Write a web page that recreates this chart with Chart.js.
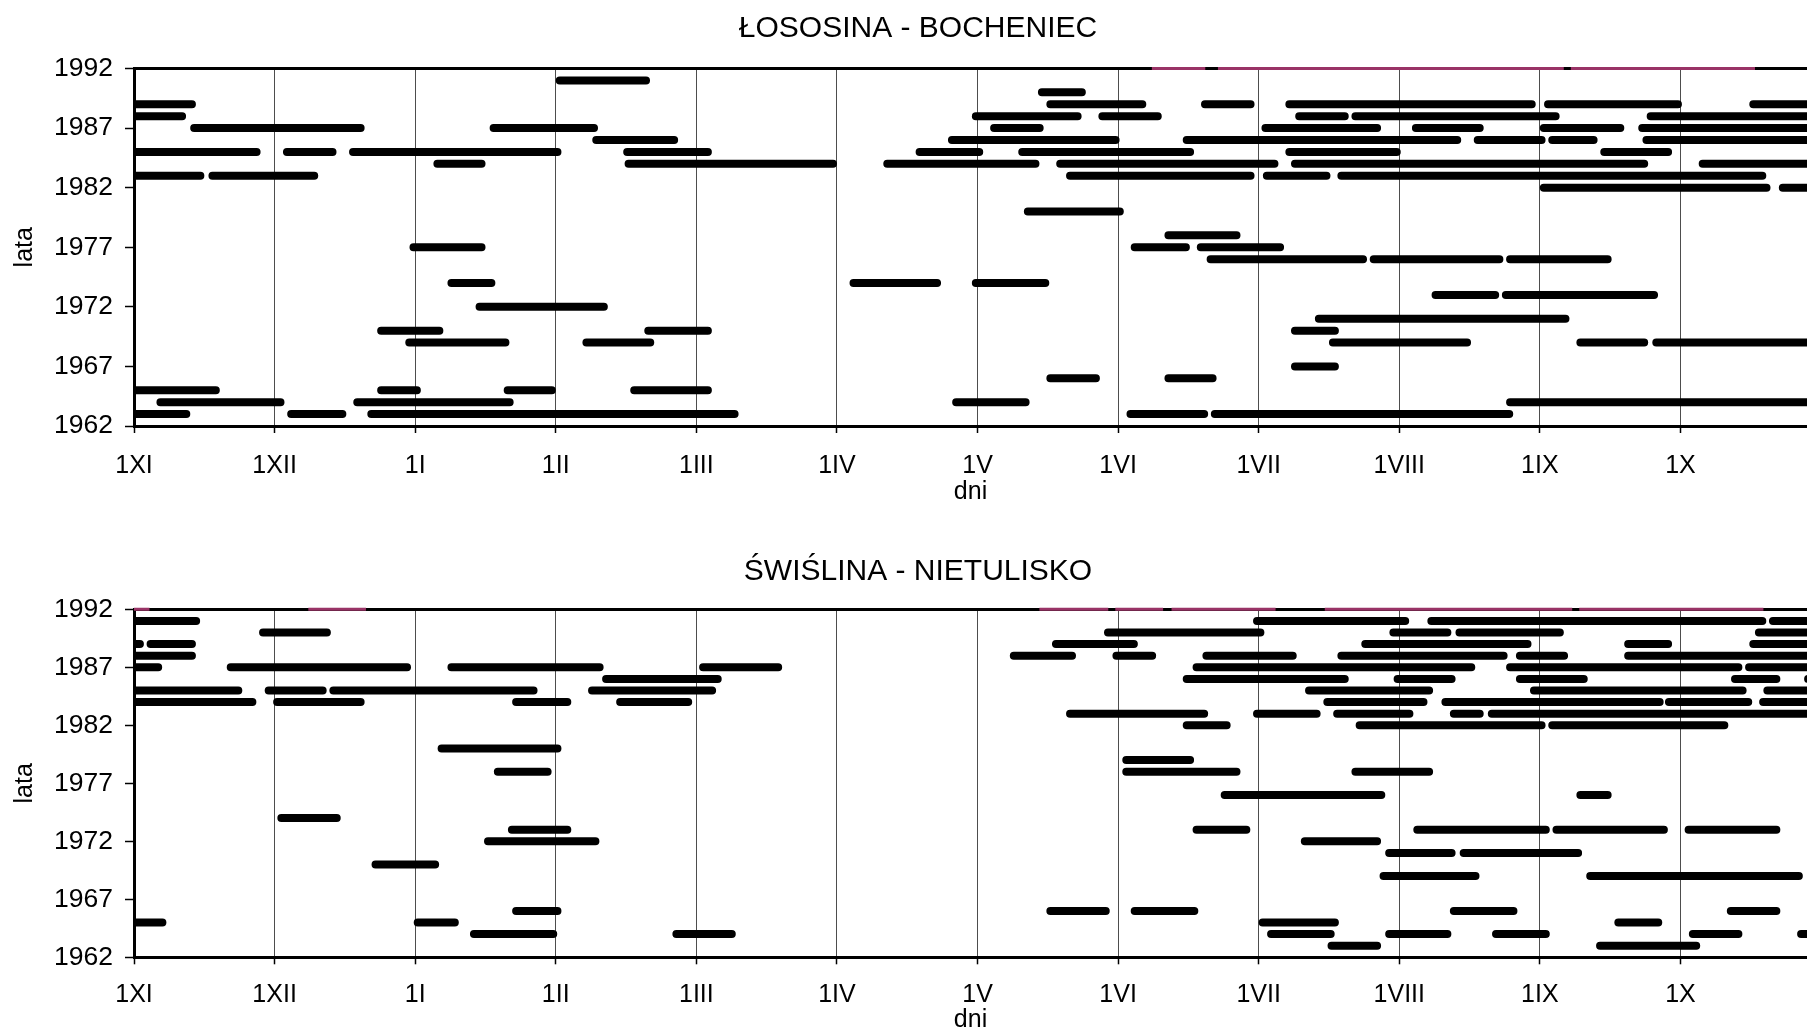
<!DOCTYPE html>
<html>
<head>
<meta charset="utf-8">
<script src="https://cdn.jsdelivr.net/npm/chart.js@4.4.0/dist/chart.umd.min.js"></script>
<style>
  html, body { margin: 0; padding: 0; background: #fff; overflow: hidden; }
  .panel { position: absolute; left: 0; width: 1807px; }
  #p1 { top: 0; height: 516px; }
  #p2 { top: 516px; height: 530px; }
</style>
</head>
<body>
<div class="panel" id="p1"><canvas id="chart1"></canvas></div>
<div class="panel" id="p2"><canvas id="chart2"></canvas></div>
<script>
// AXES
const monthLabels = ['1XI', '1XII', '1I', '1II', '1III', '1IV', '1V', '1VI', '1VII', '1VIII', '1IX', '1X'];
const yearTicks = [1962, 1967, 1972, 1977, 1982, 1987, 1992];

// [year, start, end]  (start/end in months from 1 XI)
const losSegments = [
  [1991,3.00,3.67],
  [1990,6.43,6.77],
  [1989,0,0.44],[1989,6.49,7.20],[1989,7.59,7.97],[1989,8.19,9.97],[1989,10.03,11.01],[1989,11.49,12],
  [1988,0,0.37],[1988,5.96,6.74],[1988,6.86,7.31],[1988,8.26,8.64],[1988,8.66,10.14],[1988,10.76,12],
  [1987,0.40,1.64],[1987,2.53,3.30],[1987,6.09,6.47],[1987,8.02,8.87],[1987,9.09,9.60],[1987,10.00,10.60],[1987,10.70,12],
  [1986,3.26,3.87],[1986,5.79,7.01],[1986,7.46,9.44],[1986,9.53,10.04],[1986,10.06,10.41],[1986,10.73,12],
  [1985,0,0.90],[1985,1.06,1.44],[1985,1.53,3.04],[1985,3.48,4.11],[1985,5.56,6.04],[1985,6.29,7.54],[1985,8.19,9.01],[1985,10.43,10.94],
  [1984,2.13,2.50],[1984,3.49,5.00],[1984,5.33,6.44],[1984,6.56,8.14],[1984,8.23,10.77],[1984,11.13,12],
  [1983,0,0.50],[1983,0.53,1.31],[1983,6.63,7.97],[1983,8.03,8.51],[1983,8.56,11.61],
  [1982,10.00,11.64],[1982,11.70,12],
  [1980,6.33,7.04],
  [1978,7.33,7.87],
  [1977,1.96,2.50],[1977,7.09,7.51],[1977,7.56,8.18],
  [1976,7.63,8.77],[1976,8.79,9.74],[1976,9.76,10.51],
  [1974,2.23,2.57],[1974,5.09,5.74],[1974,5.96,6.51],
  [1973,9.23,9.71],[1973,9.73,10.84],
  [1972,2.43,3.37],
  [1971,8.40,10.21],
  [1970,1.73,2.20],[1970,3.63,4.11],[1970,8.23,8.57],
  [1969,1.93,2.67],[1969,3.19,3.70],[1969,8.50,9.51],[1969,10.26,10.77],[1969,10.80,12],
  [1967,8.23,8.57],
  [1966,6.49,6.87],[1966,7.33,7.70],
  [1965,0,0.61],[1965,1.73,2.04],[1965,2.63,3.00],[1965,3.53,4.11],
  [1964,0.16,1.07],[1964,1.56,2.70],[1964,5.82,6.37],[1964,9.76,12],
  [1963,0,0.40],[1963,1.09,1.51],[1963,1.66,4.30],[1963,7.06,7.64],[1963,7.66,9.81]
];

const swiSegments = [
  [1991,0,0.47],[1991,7.96,9.07],[1991,9.20,11.61],[1991,11.63,12],
  [1990,0.89,1.40],[1990,6.90,8.04],[1990,8.93,9.37],[1990,9.40,10.17],[1990,11.53,12],
  [1989,0,0.07],[1989,0.09,0.44],[1989,6.53,7.14],[1989,8.73,9.94],[1989,10.60,10.94],[1989,11.49,12],
  [1988,0,0.44],[1988,6.23,6.70],[1988,6.96,7.27],[1988,7.60,8.27],[1988,8.56,9.77],[1988,9.83,10.20],[1988,10.60,12],
  [1987,0,0.20],[1987,0.66,1.97],[1987,2.23,3.34],[1987,4.02,4.61],[1987,7.53,9.54],[1987,9.76,11.44],[1987,11.46,12],
  [1986,3.33,4.18],[1986,7.46,8.64],[1986,8.96,9.40],[1986,9.83,10.34],[1986,11.36,11.71],[1986,11.88,12],
  [1985,0,0.77],[1985,0.93,1.37],[1985,1.39,2.87],[1985,3.23,4.14],[1985,8.33,9.24],[1985,9.93,11.47],[1985,11.59,12],
  [1984,0,0.87],[1984,0.99,1.64],[1984,2.69,3.11],[1984,3.43,3.97],[1984,8.46,9.20],[1984,9.30,10.88],[1984,10.89,11.51],[1984,11.56,12],
  [1983,6.63,7.64],[1983,7.96,8.44],[1983,8.53,9.10],[1983,9.36,9.60],[1983,9.63,12],
  [1982,7.46,7.80],[1982,8.69,10.04],[1982,10.06,11.34],
  [1980,2.16,3.04],
  [1979,7.03,7.54],
  [1978,2.56,2.97],[1978,7.03,7.87],[1978,8.66,9.24],
  [1976,7.73,8.90],[1976,10.26,10.51],
  [1974,1.02,1.47],
  [1973,2.66,3.11],[1973,7.53,7.94],[1973,9.10,10.07],[1973,10.09,10.91],[1973,11.03,11.71],
  [1972,2.49,3.31],[1972,8.30,8.87],
  [1971,8.90,9.40],[1971,9.43,10.30],
  [1970,1.69,2.17],
  [1969,8.86,9.57],[1969,10.33,11.87],
  [1966,2.69,3.04],[1966,6.49,6.94],[1966,7.09,7.57],[1966,9.36,9.84],[1966,11.33,11.71],
  [1965,0,0.23],[1965,1.99,2.31],[1965,8.00,8.57],[1965,10.53,10.87],
  [1964,2.39,3.01],[1964,3.83,4.28],[1964,8.06,8.54],[1964,8.90,9.37],[1964,9.66,10.07],[1964,11.06,11.44],[1964,11.83,12],
  [1963,8.49,8.87],[1963,10.40,11.14]
];

// thin purple marks lying on the 1992 line
const topYear = 1992;
const losTopMarks = [[7.24,7.62],[7.71,10.17],[10.22,11.53]];
const swiTopMarks = [[0,0.11],[1.24,1.65],[6.44,6.93],[6.98,7.32],[7.38,8.12],[8.47,10.23],[10.28,11.59]];

const X_MAX = 11.9;
const BAR_W = 8;
const CAP = 0.028;   // half of the bar width, in months (round caps)
const FONT = "'Liberation Sans', Arial, sans-serif";
const PAD_L = 29;    // shifts the title centre, y axis box keeps the plot at x=134

function barPoints(segs){
  let pts = [];
  segs.forEach(s => {
    let a = s[1], b = s[2];
    if (a > 0) a += CAP;
    if (b < X_MAX) b -= CAP;
    pts.push({x: a, y: s[0]}, {x: b, y: s[0]}, {x: b, y: null});
  });
  return pts;
}

function markPoints(marks){
  let pts = [];
  marks.forEach(m => {
    pts.push({x: m[0], y: topYear}, {x: m[1], y: topYear}, {x: m[1], y: null});
  });
  return pts;
}

function makeChart(id, title, segs, marks, lay){
  return new Chart(document.getElementById(id), {
    type: 'line',
    data: {
      datasets: [{
        data: barPoints(segs),
        borderColor: '#000',
        borderWidth: BAR_W,
        borderCapStyle: 'round',
        pointRadius: 0,
        spanGaps: false,
        clip: 0
      },{
        data: markPoints(marks),
        borderColor: '#993366',
        borderWidth: 3,
        borderCapStyle: 'butt',
        pointRadius: 0,
        spanGaps: false,
        clip: false
      }]
    },
    options: {
      responsive: true,
      maintainAspectRatio: false,
      animation: false,
      layout: { padding: { left: PAD_L, right: 0, top: 0, bottom: 0 } },
      plugins: {
        legend: { display: false },
        tooltip: { enabled: false },
        title: {
          display: true,
          text: title,
          color: '#000',
          font: { family: FONT, size: 30, weight: 'normal' },
          padding: { top: lay.titleTop, bottom: lay.titleBottom }
        }
      },
      scales: {
        x: {
          type: 'linear',
          position: 'bottom',
          min: 0,
          max: X_MAX,
          afterBuildTicks: s => { s.ticks = monthLabels.map((l, i) => ({value: i})); },
          afterFit: s => { s.height = lay.xHeight; },
          ticks: {
            callback: v => monthLabels[v],
            color: '#000',
            font: { family: FONT, size: 25 },
            padding: lay.xTickPad,
            maxRotation: 0,
            autoSkip: false
          },
          grid: { color: '#4d4d4d', lineWidth: 1, tickLength: 7, tickColor: '#000', tickWidth: 1.5 },
          border: { color: '#000', width: 3 },
          title: {
            display: true,
            text: 'dni',
            color: '#000',
            font: { family: FONT, size: 25 },
            padding: { top: 0, bottom: lay.dniPad }
          }
        },
        xTop: {
          type: 'linear',
          position: 'top',
          min: 0,
          max: X_MAX,
          afterFit: s => { s.height = 0; },
          ticks: { display: false },
          grid: { display: false, drawTicks: false },
          border: { display: true, color: '#000', width: 3 }
        },
        y: {
          type: 'linear',
          min: 1962,
          max: 1992,
          afterBuildTicks: s => { s.ticks = yearTicks.map(v => ({value: v})); },
          afterFit: s => { s.width = 134 - PAD_L; },
          ticks: {
            callback: v => String(v),
            color: '#000',
            font: { family: FONT, size: 26.5 },
            padding: 12
          },
          grid: { drawOnChartArea: false, tickLength: 9, tickColor: '#000', tickWidth: 1.5 },
          border: { color: '#000', width: 3 },
          title: {
            display: true,
            text: 'lata',
            color: '#000',
            font: { family: FONT, size: 25 },
            padding: { top: 10 - PAD_L, bottom: 0 }
          }
        }
      }
    }
  });
}

makeChart('chart1', 'ŁOSOSINA - BOCHENIEC', losSegments, losTopMarks,
  { titleTop: 10.5, titleBottom: 22, xHeight: 90, xTickPad: 17.7, dniPad: 9 });
makeChart('chart2', 'ŚWIŚLINA - NIETULISKO', swiSegments, swiTopMarks,
  { titleTop: 37.4, titleBottom: 19.9, xHeight: 88.7, xTickPad: 15.7, dniPad: 11 });
</script>
</body>
</html>
